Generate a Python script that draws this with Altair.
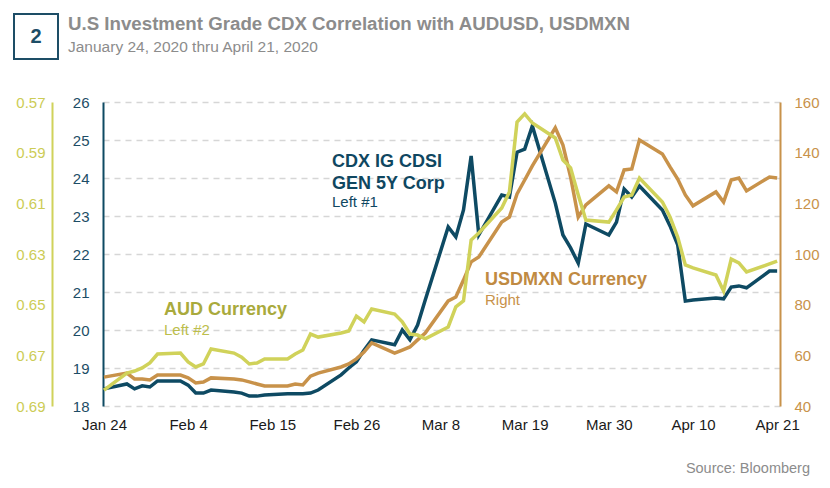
import altair as alt
import pandas as pd

# ---------------- data ----------------
dates = [
    "2020-01-24", "2020-01-27", "2020-01-28", "2020-01-29", "2020-01-30", "2020-01-31",
    "2020-02-03", "2020-02-04", "2020-02-05", "2020-02-06", "2020-02-07",
    "2020-02-10", "2020-02-11", "2020-02-12", "2020-02-13", "2020-02-14",
    "2020-02-17", "2020-02-18", "2020-02-19", "2020-02-20", "2020-02-21",
    "2020-02-24", "2020-02-25", "2020-02-26", "2020-02-27", "2020-02-28",
    "2020-03-02", "2020-03-03", "2020-03-04", "2020-03-05", "2020-03-06",
    "2020-03-09", "2020-03-10", "2020-03-11", "2020-03-12", "2020-03-13",
    "2020-03-16", "2020-03-17", "2020-03-18", "2020-03-19", "2020-03-20",
    "2020-03-23", "2020-03-24", "2020-03-25", "2020-03-26", "2020-03-27",
    "2020-03-30", "2020-03-31", "2020-04-01", "2020-04-02", "2020-04-03",
    "2020-04-06", "2020-04-07", "2020-04-08", "2020-04-09", "2020-04-10",
    "2020-04-13", "2020-04-14", "2020-04-15", "2020-04-16", "2020-04-17",
    "2020-04-20", "2020-04-21",
]

cdx = [
    18.45, 18.58, 18.45, 18.53, 18.50, 18.66,
    18.66, 18.55, 18.34, 18.34, 18.42,
    18.37, 18.34, 18.26, 18.26, 18.29,
    18.32, 18.32, 18.32, 18.34, 18.42,
    18.82, 19.00, 19.16, 19.47, 19.74,
    19.61, 20.00, 19.74, 20.13, 20.79,
    22.71, 22.45, 23.16, 24.58, 22.50,
    23.55, 23.50, 24.68, 24.76, 25.37,
    23.34, 22.50, 22.16, 21.76, 22.79,
    22.50, 22.84, 23.71, 23.50, 23.79,
    23.16, 22.74, 22.24, 20.76, 20.79,
    20.84, 20.82, 21.13, 21.16, 21.11,
    21.55, 21.55,
]

aud = [
    0.6837, 0.6770, 0.6762, 0.6750, 0.6730, 0.6695,
    0.6691, 0.6726, 0.6746, 0.6734, 0.6675,
    0.6691, 0.6707, 0.6734, 0.6730, 0.6714,
    0.6714, 0.6695, 0.6679, 0.6616, 0.6628,
    0.6612, 0.6604, 0.6545, 0.6568, 0.6517,
    0.6537, 0.6568, 0.6616, 0.6620, 0.6635,
    0.6588, 0.6509, 0.6485, 0.6245, 0.6217,
    0.6118, 0.6055, 0.5779, 0.5747, 0.5783,
    0.5842, 0.5929, 0.5960, 0.6067, 0.6166,
    0.6174, 0.6126, 0.6075, 0.6067, 0.6000,
    0.6095, 0.6154, 0.6233, 0.6343, 0.6355,
    0.6383, 0.6446, 0.6320, 0.6335, 0.6371,
    0.6339, 0.6328,
]

mxn = [
    51.4, 53.0, 50.7, 50.7, 50.3, 52.2,
    52.2, 51.1, 49.1, 49.5, 51.1,
    50.7, 50.3, 49.5, 48.7, 47.9,
    47.9, 48.7, 48.3, 51.8, 53.0,
    55.4, 56.6, 58.6, 61.3, 64.9,
    60.9, 62.1, 63.3, 66.1, 68.8,
    81.5, 83.0, 89.7, 96.9, 98.8,
    112.6, 114.6, 123.7, 129.2, 134.8,
    149.8, 143.0, 130.4, 114.6, 119.4,
    126.9, 124.5, 133.2, 133.6, 145.0,
    139.5, 134.4, 129.6, 123.3, 119.0,
    124.5, 120.5, 129.2, 130.0, 124.9,
    130.4, 130.0,
]

cdx_ticks = [18, 19, 20, 21, 22, 23, 24, 25, 26]
aud_ticks = [0.57, 0.59, 0.61, 0.63, 0.65, 0.67, 0.69]
mxn_ticks = [40, 60, 80, 100, 120, 140, 160]
x_tick_days = [(1, 24), (2, 4), (2, 15), (2, 26), (3, 8), (3, 19), (3, 30), (4, 10), (4, 21)]

title_text = "U.S Investment Grade CDX Correlation with AUDUSD, USDMXN"
subtitle_text = "January 24, 2020 thru April 21, 2020"
source_text = "Source: Bloomberg"

# ---------------- styling ----------------
FONT = "Liberation Sans"
C_CDX = "#0e4a63"
C_AUD = "#d0d25a"
C_MXN = "#c8924a"
C_GRAY = "#8c8c8c"

df = pd.DataFrame({"date": dates, "cdx": cdx, "aud": aud, "mxn": mxn})

x_enc = alt.X(
    "date:T",
    title=None,
    scale=alt.Scale(
        type="utc",
        domain=[
            alt.DateTime(year=2020, month=1, date=23, hours=21, utc=True),
            alt.DateTime(year=2020, month=4, date=21, hours=9, utc=True),
        ],
    ),
    axis=alt.Axis(
        values=[alt.DateTime(year=2020, month=m, date=d, utc=True) for m, d in x_tick_days],
        labelExpr="utcFormat(datum.value, '%b') + ' ' + utcdate(datum.value)",
        grid=False,
        domain=False,
        ticks=False,
        labelFont=FONT,
        labelFontSize=15,
        labelColor="#1a1a1a",
        labelPadding=11,
        labelFlush=False,
    ),
)

base = alt.Chart(df)

mxn_line = base.mark_line(color=C_MXN, strokeWidth=3.5).encode(
    x=x_enc,
    y=alt.Y(
        "mxn:Q",
        title=None,
        scale=alt.Scale(domain=[40, 160], nice=False, zero=False),
        axis=alt.Axis(
            orient="right",
            values=mxn_ticks,
            grid=False,
            ticks=False,
            domainColor=C_MXN,
            domainWidth=2,
            labelColor=C_MXN,
            labelFont=FONT,
            labelFontSize=15,
            labelPadding=14,
        ),
    ),
)

aud_line = base.mark_line(color=C_AUD, strokeWidth=3.5).encode(
    x=x_enc,
    y=alt.Y(
        "aud:Q",
        title=None,
        scale=alt.Scale(domain=[0.57, 0.69], reverse=True, nice=False, zero=False),
        axis=alt.Axis(
            orient="left",
            offset=51,
            values=aud_ticks,
            format=".2f",
            grid=False,
            ticks=False,
            domainColor=C_AUD,
            domainWidth=2,
            labelColor="#cccc55",
            labelFont=FONT,
            labelFontSize=15,
            labelPadding=7,
        ),
    ),
)

cdx_line = base.mark_line(color=C_CDX, strokeWidth=3.5).encode(
    x=x_enc,
    y=alt.Y(
        "cdx:Q",
        title=None,
        scale=alt.Scale(domain=[18, 26], nice=False, zero=False),
        axis=alt.Axis(
            orient="left",
            values=cdx_ticks,
            grid=True,
            gridColor="#d6d6d6",
            gridDash=[6, 5],
            gridWidth=1.5,
            ticks=False,
            domainColor=C_CDX,
            domainWidth=2,
            labelColor="#1d4d66",
            labelFont=FONT,
            labelFontSize=15,
            labelPadding=14,
        ),
    ),
)


def label(text, x, y, size, color, weight="normal", align="left", baseline="alphabetic"):
    return alt.Chart(pd.DataFrame({"t": [text]})).mark_text(
        align=align, baseline=baseline, font=FONT, fontSize=size,
        fontWeight=weight, color=color,
    ).encode(text="t:N", x=alt.value(x), y=alt.value(y))


box = alt.Chart(pd.DataFrame({"t": [0]})).mark_rect(
    fill="white", stroke="#1d4d66", strokeWidth=2
).encode(x=alt.value(-89), x2=alt.value(-45), y=alt.value(-88), y2=alt.value(-43))

texts = [
    label(title_text, -35, -72, 18.7, C_GRAY, "bold"),
    label(subtitle_text, -35, -50, 15.5, C_GRAY),
    label("2", -67, -65, 20, "#1d4d66", "bold", align="center", baseline="middle"),
    label(source_text, 707, 371, 14.5, C_GRAY, align="right"),
    label("CDX IG CDSI", 229, 65, 18, "#0f4761", "bold"),
    label("GEN 5Y Corp", 229, 87, 18, "#0f4761", "bold"),
    label("Left #1", 229, 105, 15, "#0f4761"),
    label("AUD Currency", 61, 213, 18, "#a9aa3c", "bold"),
    label("Left #2", 61, 233, 15, "#bcbe4c"),
    label("USDMXN Currency", 382, 183, 18, "#c08a42", "bold"),
    label("Right", 382, 203, 15, C_MXN),
]

chart = (
    alt.layer(cdx_line, mxn_line, aud_line, box, *texts)
    .resolve_scale(y="independent")
    .properties(
        width=677,
        height=304,
        autosize=alt.AutoSizeParams(type="none"),
        padding={"left": 95, "top": 94, "right": 42, "bottom": 74},
    )
    .configure_view(strokeWidth=0)
)

chart.save("out.html", embed_options={"renderer": "svg", "actions": False})
